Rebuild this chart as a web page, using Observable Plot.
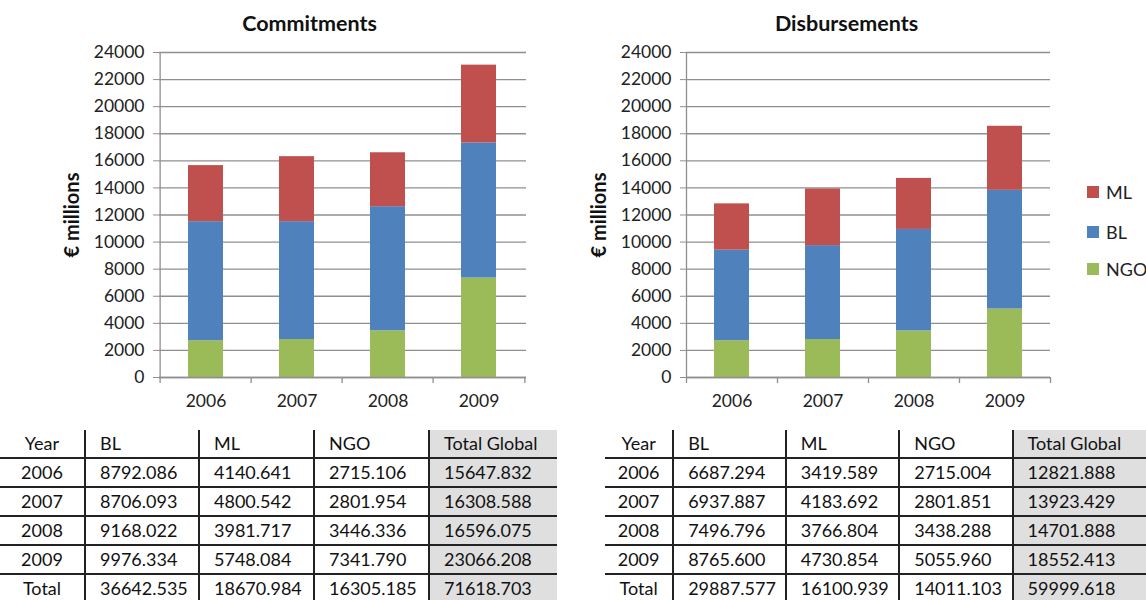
<!DOCTYPE html>
<html><head><meta charset="utf-8">
<script src="https://cdn.jsdelivr.net/npm/d3@7"></script>
<script src="https://cdn.jsdelivr.net/npm/@observablehq/plot@0.6"></script>
<style>
body{margin:0;background:#fff;font-family:Lato,"Open Sans",sans-serif;}
#root{position:relative;width:1146px;height:600px;overflow:hidden;background:#fff;}
.chart{position:absolute;top:0;}
table.data{position:absolute;top:430px;border-collapse:collapse;table-layout:fixed;font-size:18px;color:#111;}
table.data td{height:27px;padding:0 0 0 14px;border-left:2px solid #222;border-bottom:2px solid #222;white-space:nowrap;overflow:hidden;line-height:27px;}
table.data td:first-child{border-left:none;text-align:center;padding:0;}
table.data tr:last-child td{border-bottom:none;}
table.data td.tot{background:#dfdfdf;}
.leg{position:absolute;font-size:18px;color:#222;line-height:20px;}
.leg span.sw{position:absolute;width:12px;height:12px;left:0;top:4px;}
.leg span.lb{position:absolute;left:19px;top:0;}
</style>
</head><body>
<div id="root"></div>
<script>
const years = ["2006", "2007", "2008", "2009"];
const seriesNames = ["ML", "BL", "NGO"];
const seriesColors = ["#C0504D", "#4F81BD", "#9BBB59"];
const yTicks = [0, 2000, 4000, 6000, 8000, 10000, 12000, 14000, 16000, 18000, 20000, 22000, 24000];

const commitBL = [8792.086, 8706.093, 9168.022, 9976.334];
const commitML = [4140.641, 4800.542, 3981.717, 5748.084];
const commitNGO = [2715.106, 2801.954, 3446.336, 7341.790];
const commitTotal = [15647.832, 16308.588, 16596.075, 23066.208];
const commitSums = [36642.535, 18670.984, 16305.185, 71618.703];

const disbBL = [6687.294, 6937.887, 7496.796, 8765.600];
const disbML = [3419.589, 4183.692, 3766.804, 4730.854];
const disbNGO = [2715.004, 2801.851, 3438.288, 5055.960];
const disbTotal = [12821.888, 13923.429, 14701.888, 18552.413];
const disbSums = [29887.577, 16100.939, 14011.103, 59999.618];

const tableHeader = ["Year", "BL", "ML", "NGO", "Total Global"];
const totalLabel = "Total";

const root = document.getElementById("root");
const fontFam = "Lato, 'Open Sans', sans-serif";
const gridColor = "#8f8f8f";

function chart(title, BL, ML, NGO, o) {
  const data = years.flatMap((y, i) => [
    {year: y, series: "NGO", value: NGO[i]},
    {year: y, series: "BL", value: BL[i]},
    {year: y, series: "ML", value: ML[i]}
  ]);
  const W = 573, H = 420, mt = 52, mb = 43;
  const step = (W - o.ml - o.mr) / years.length;
  const ln = {stroke: gridColor, strokeWidth: 1.3};
  return Plot.plot({
    width: W, height: H,
    marginLeft: o.ml, marginRight: o.mr, marginTop: mt, marginBottom: mb,
    style: {fontFamily: fontFam, fontSize: "17.5px", color: "#222", background: "transparent"},
    x: {domain: years, paddingInner: 0.61, paddingOuter: 0.305, label: null},
    y: {domain: [0, 24000], label: null},
    color: {domain: seriesNames, range: seriesColors},
    marks: [
      Plot.gridY(yTicks, {...ln, strokeOpacity: 1}),
      Plot.ruleX([years[0]], {x: d => d, dx: -step / 2, y1: 0, y2: 24000, ...ln}),
      Plot.ruleX(years, {x: d => d, dx: -step / 2, y1: 0, y2: 0, insetBottom: -6, ...ln}),
      Plot.ruleX([years[years.length - 1]], {x: d => d, dx: step / 2, y1: 0, y2: 0, insetBottom: -6, ...ln}),
      Plot.barY(data, {x: "year", y: "value", fill: "series", order: ["NGO", "BL", "ML"]}),
      Plot.ruleY([0], ln),
      Plot.axisY(yTicks, {tickSize: 6, tickPadding: 9, tickFormat: d3.format("d"), stroke: gridColor, fill: "#222", label: null}),
      Plot.axisX({tickSize: 0, tickPadding: 17, label: null, fill: "#222"}),
      Plot.text([title], {text: d => d, frameAnchor: "top", textAnchor: "middle", lineAnchor: "middle", dx: o.tdx, dy: -28, fontWeight: "bold", fontSize: 21.5, fill: "#111"}),
      Plot.text(["€ millions"], {text: d => d, frameAnchor: "left", textAnchor: "middle", lineAnchor: "middle", dx: -87, rotate: -90, fontWeight: "bold", fontSize: 20, fill: "#111"})
    ]
  });
}

function place(el, left) {
  el.classList.add("chart");
  el.style.left = left + "px";
  root.appendChild(el);
}
place(chart("Commitments", commitBL, commitML, commitNGO, {ml: 159, mr: 47, tdx: -33.5}), 0);
place(chart("Disbursements", disbBL, disbML, disbNGO, {ml: 113, mr: 96, tdx: -22}), 573);

// legend
seriesNames.forEach((s, i) => {
  const d = document.createElement("div");
  d.className = "leg";
  d.style.left = "1087px";
  d.style.top = [182, 222, 259][i] + "px";
  d.innerHTML = `<span class="sw" style="background:${seriesColors[i]}"></span><span class="lb">${s}</span>`;
  root.appendChild(d);
});

// tables
const fmt = d3.format(".3f");
function table(left, widths, BL, ML, NGO, TOT, sums) {
  const t = document.createElement("table");
  t.className = "data";
  t.style.left = left + "px";
  const cg = document.createElement("colgroup");
  widths.forEach(w => { const c = document.createElement("col"); c.style.width = w + "px"; cg.appendChild(c); });
  t.appendChild(cg);
  const rows = [tableHeader];
  years.forEach((y, i) => rows.push([y, fmt(BL[i]), fmt(ML[i]), fmt(NGO[i]), fmt(TOT[i])]));
  rows.push([totalLabel, ...sums.map(fmt)]);
  rows.forEach(r => {
    const tr = document.createElement("tr");
    r.forEach((v, j) => {
      const td = document.createElement("td");
      td.textContent = v;
      if (j === 4) td.className = "tot";
      tr.appendChild(td);
    });
    t.appendChild(tr);
  });
  root.appendChild(t);
}
table(0, [85, 114, 115, 115, 128], commitBL, commitML, commitNGO, commitTotal, commitSums);
table(605, [75, 115, 116, 116, 140], disbBL, disbML, disbNGO, disbTotal, disbSums);
</script>
</body></html>
